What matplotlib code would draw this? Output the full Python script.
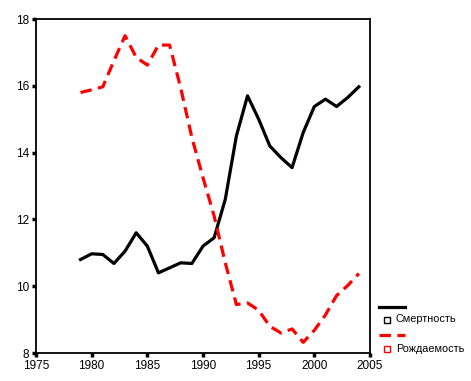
import matplotlib
matplotlib.use('Agg')
from matplotlib import pyplot as plt
from matplotlib.lines import Line2D

plt.rcParams['font.family'] = ['Liberation Sans', 'DejaVu Sans']

years = list(range(1979, 2005))
mortality = [10.8, 10.97, 10.95, 10.68, 11.05, 11.6, 11.2, 10.4, 10.55, 10.7,
             10.68, 11.2, 11.45, 12.6, 14.5, 15.7, 15.0, 14.2, 13.85, 13.55,
             14.6, 15.38, 15.6, 15.38, 15.65, 15.97]
birth = [15.8, 15.88, 15.97, 16.75, 17.5, 16.85, 16.62, 17.22, 17.22, 15.93,
         14.45, 13.25, 12.1, 10.7, 9.45, 9.5, 9.28, 8.8, 8.6, 8.72,
         8.32, 8.68, 9.14, 9.72, 10.02, 10.38]
labels = ['Смертность', 'Рождаемость']

W, H = 471, 381
fig = plt.figure(figsize=(W / 100, H / 100), dpi=100)
ax = fig.add_axes([36 / W, 1 - 353 / H, (370 - 36) / W, (353 - 19) / H])

ax.plot(years, mortality, color='black', lw=2.3, solid_joinstyle='round')
ax.plot(years, birth, color='#ff0000', lw=2.3, dashes=(3.6, 2.0))

ax.set_xlim(1975, 2005)
ax.set_ylim(8, 18)
ax.set_xticks(range(1975, 2006, 5))
ax.set_yticks(range(8, 19, 2))
for s in ax.spines.values():
    s.set_linewidth(1.3)
ax.tick_params(direction='out', length=3, width=2.5, labelsize=8.5, pad=2)

# SPSS-style legend outside the plot
def lx(x):
    return x / W

def ly(y):
    return 1 - y / H

fig.add_artist(Line2D([lx(379), lx(405)], [ly(306.5), ly(306.5)], color='black', lw=2.3))
fig.add_artist(Line2D([lx(386.5)], [ly(319.5)], marker='s', ms=4, mfc='white', mec='black', mew=1))
fig.text(lx(396), ly(319.5), labels[0], fontsize=7.8, va='center', ha='left')
fig.add_artist(Line2D([lx(379), lx(405)], [ly(334.5), ly(334.5)], color='#ff0000', lw=2.3,
                      dashes=(3.6, 2.0)))
fig.add_artist(Line2D([lx(386.5)], [ly(349)], marker='s', ms=4, mfc='white', mec='#ff0000', mew=1))
fig.text(lx(396), ly(349), labels[1], fontsize=7.8, va='center', ha='left')

fig.savefig('out.png', dpi=100)
